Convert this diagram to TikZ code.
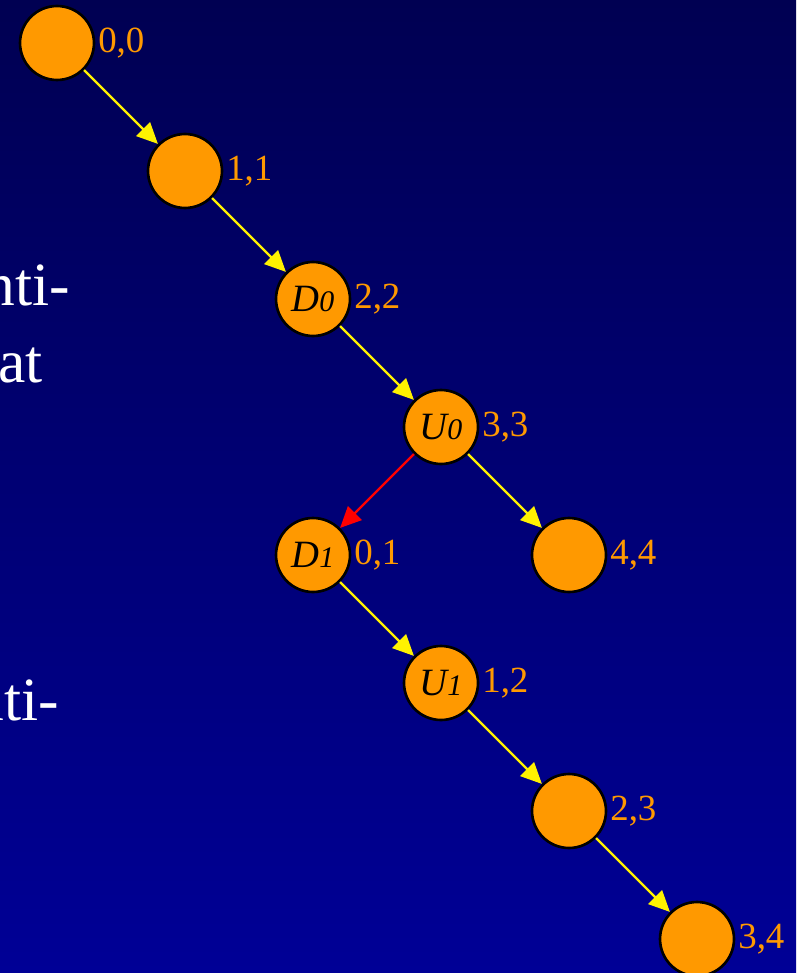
\documentclass[tikz,border=0pt]{standalone}
\usepackage{fontspec}
\setmainfont{Liberation Serif}
\usetikzlibrary{arrows.meta}
\definecolor{nodeorange}{RGB}{255,153,0}
\definecolor{bgtop}{RGB}{0,0,82}
\definecolor{bgbottom}{RGB}{0,0,150}
\begin{document}
\begin{tikzpicture}[x=0.02cm,y=-0.02cm,>={Triangle[length=12pt,width=11pt]},
			state/.style={circle,draw=black,line width=1.5pt,fill=nodeorange,minimum size=1.48cm,inner sep=0pt,font=\fontsize{22}{22}\selectfont\itshape},
			val/.style={anchor=west,inner sep=0pt,xshift=1.5pt,text=nodeorange,font=\fontsize{21}{21}\selectfont},
			move/.style={->,yellow,line width=1.35pt},
			back/.style={->,red,line width=1.35pt},
			body/.style={anchor=base east,inner sep=0pt,text=white,font=\fontsize{35}{35}\selectfont},
			]
			\newcommand\idx[1]{{\fontsize{17}{17}\selectfont #1}}
			% Hintergrund, Bildgroesse 796 x 973
			\clip (0,0) rectangle (796,973);
			\shade[top color=bgtop,bottom color=bgbottom] (0,0) rectangle (796,973);
			
			% abgeschnittener Text links
			\node[body] (w1) at (70,305) {nti-};
			\node[body] (w2) at (43,382) {at};
			\node[body] (w3) at (59,720) {nti-};
			
			% Zustaende
			\node[state] (n00) at (57,43) {};
			\node[state] (n11) at (185,171) {};
			\node[state] (d0) at (313,299) {D\idx{0}};
			\node[state] (u0) at (441,427) {U\idx{0}};
			\node[state] (d1) at (313,555) {D\idx{1}};
			\node[state] (n44) at (569,555) {};
			\node[state] (u1) at (441,683) {U\idx{1}};
			\node[state] (n23) at (569,811) {};
			\node[state] (n34) at (697,939) {};
			
			% Werte
			\node[val] (v00) at (n00.east) {0,0};
			\node[val] (v11) at (n11.east) {1,1};
			\node[val] (v22) at (d0.east) {2,2};
			\node[val] (v33) at (u0.east) {3,3};
			\node[val] (v01) at (d1.east) {0,1};
			\node[val] (v44) at (n44.east) {4,4};
			\node[val] (v12) at (u1.east) {1,2};
			\node[val] (v23) at (n23.east) {2,3};
			\node[val] (v34) at (n34.east) {3,4};
			
			% Uebergaenge
			\draw[move] (n00) -- (n11);
			\draw[move] (n11) -- (d0);
			\draw[move] (d0) -- (u0);
			\draw[move] (u0) -- (n44);
			\draw[back] (u0) -- (d1);
			\draw[move] (d1) -- (u1);
			\draw[move] (u1) -- (n23);
			\draw[move] (n23) -- (n34);
		\end{tikzpicture}
\end{document}
